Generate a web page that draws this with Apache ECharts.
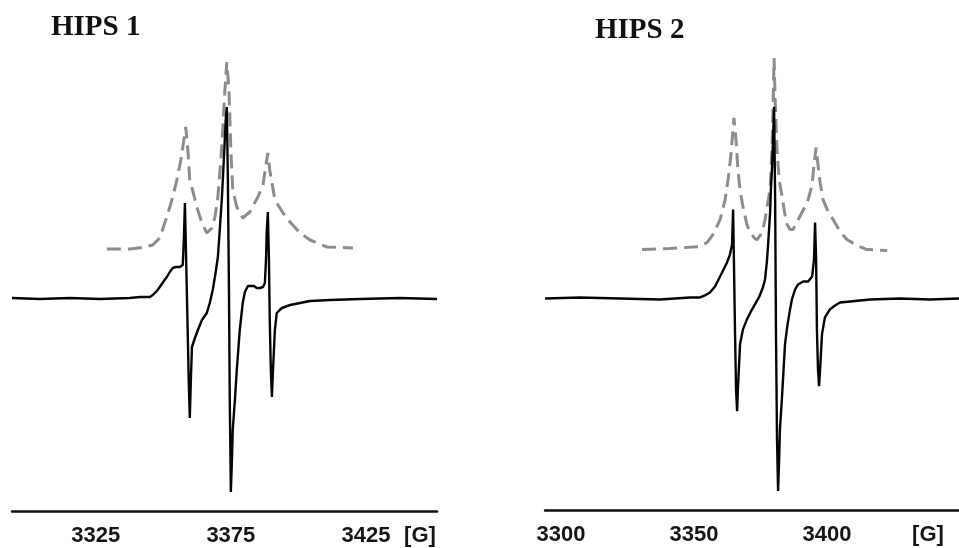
<!DOCTYPE html>
<html>
<head>
<meta charset="utf-8">
<script src="https://cdn.jsdelivr.net/npm/echarts@6/dist/echarts.min.js"></script>
<style>
html,body{margin:0;padding:0;background:#fff;}
#chart{width:959px;height:548px;}
</style>
</head>
<body>
<div id="chart"></div>
<script>
// ---- Data (field in Gauss, intensity in arbitrary units) ----
const titles = ['HIPS 1', 'HIPS 2'];
const unitLabel = '[G]';

const ticks1 = [3325, 3375, 3425];
const ticks2 = [3300, 3350, 3400];

// HIPS 1 measured spectrum (solid)
const hips1Field = [3294,3304.3,3315.4,3326.5,3337.6,3341.3,3345.0,3346.1,3347.6,3348.7,3350.2,3351.3,3352.4,3353.5,3354.6,3356.1,3357.2,3357.6,3358.0,3358.7,3359.4,3359.8,3360.2,3360.6,3361.7,3362.8,3364.3,3366.1,3367.2,3368.3,3369.4,3370.2,3370.9,3371.7,3372.4,3373.1,3373.5,3373.9,3374.3,3374.6,3375.0,3375.4,3375.7,3376.5,3377.2,3378.3,3379.4,3380.2,3381.3,3382.0,3383.5,3384.6,3385.7,3386.9,3387.6,3388.0,3388.3,3388.7,3389.1,3389.4,3389.8,3390.2,3390.6,3391.3,3392.0,3393.1,3393.9,3396.9,3400.6,3404.3,3411.7,3422.8,3437.6,3451.3];
const hips1Signal = [2,1,2,1,2,3,3,5,9,13,19,23,28,32,33,33,35,60,97,10,-80,-118,-80,-47,-38,-30,-20,-13,-3,10,28,43,70,103,140,180,193,120,10,-100,-192,-160,-130,-100,-70,-30,-3,8,14,16,14,12,12,13,17,40,70,88,40,-20,-70,-97,-70,-30,-13,-10,-8,-5,-3,-1,0,1,2,1];

// HIPS 1 simulated spectrum (dashed)
const hips1SimField = [3329.1,3337.6,3343.1,3346.1,3348.7,3351.3,3353.5,3355.0,3356.5,3357.6,3358.3,3359.1,3359.8,3361.3,3362.4,3364.3,3366.1,3368.0,3369.1,3370.2,3371.3,3372.0,3372.8,3373.5,3374.3,3375.0,3375.7,3377.2,3379.4,3382.0,3385.0,3386.9,3388.0,3388.7,3389.4,3391.3,3394.3,3396.9,3400.6,3404.3,3410.6,3420.2];
const hips1SimSignal = [51,51,53,55,62,83,103,120,140,160,173,150,120,105,93,77,67,72,83,103,140,170,210,238,210,150,110,93,82,88,103,115,135,147,130,100,87,78,67,60,53,52];

// HIPS 2 measured spectrum (solid)
const hips2Field = [3294.0,3307.1,3322.2,3337.2,3348.5,3352.3,3354.1,3356.0,3357.9,3359.8,3361.3,3362.4,3363.5,3364.3,3364.7,3365.0,3365.4,3365.8,3366.2,3366.5,3367.3,3368.4,3369.9,3371.4,3372.9,3374.4,3375.9,3376.7,3377.4,3377.8,3378.6,3378.9,3379.3,3379.7,3380.1,3380.5,3380.8,3381.2,3381.6,3382.0,3382.3,3383.1,3384.2,3385.0,3386.1,3386.8,3388.0,3389.1,3391.0,3392.9,3394.4,3395.1,3395.5,3395.9,3396.2,3396.6,3397.0,3397.4,3398.1,3399.2,3401.1,3403.0,3404.9,3408.6,3416.2,3427.4,3438.7,3449.6];
const hips2Signal = [1,2,1,0,2,2,4,7,13,23,31,37,45,55,90,40,-30,-90,-112,-90,-45,-30,-20,-12,-5,2,12,20,38,53,87,110,130,160,193,100,-30,-140,-192,-160,-130,-97,-45,-28,-10,0,10,15,18,18,23,40,77,40,-30,-70,-87,-70,-35,-18,-10,-6,-3,-2,0,1,0,1];

// HIPS 2 simulated spectrum (dashed)
const hips2SimField = [3330.5,3341.0,3352.3,3354.9,3357.1,3359.8,3361.7,3362.8,3363.9,3365.0,3365.8,3366.5,3367.3,3368.4,3369.9,3371.1,3372.9,3373.7,3375.6,3376.7,3377.4,3378.6,3379.3,3379.7,3380.1,3380.5,3381.2,3382.0,3383.1,3384.2,3385.0,3386.1,3387.2,3388.7,3389.8,3391.7,3392.9,3394.4,3395.1,3395.9,3396.6,3397.4,3398.5,3400.4,3402.3,3404.9,3407.5,3411.3,3415.0,3422.6];
const hips2SimSignal = [50,51,53,57,65,80,100,120,145,182,160,130,110,93,75,67,61,60,67,80,92,110,150,190,242,200,150,120,103,85,75,70,70,78,83,93,100,115,135,152,135,117,100,88,80,68,60,54,50,49];

function zip(xs, ys) { return xs.map((x, i) => [x, ys[i]]); }

const chart = echarts.init(document.getElementById('chart'), null, {renderer: 'canvas'});

const labelStyle = {
  fontFamily: '"Liberation Sans", Arial, sans-serif',
  fontWeight: 'bold',
  fontSize: 22,
  color: '#151515'
};

function xAxisFor(gridIndex, min, max, ticks, nameGap) {
  return {
    type: 'value', gridIndex, min, max,
    axisLine: {show: true, onZero: false, lineStyle: {color: '#111', width: 2.5}},
    axisTick: {show: false},
    splitLine: {show: false},
    axisLabel: Object.assign({customValues: ticks, margin: 14, formatter: v => String(v)}, labelStyle),
    name: unitLabel,
    nameLocation: 'end',
    nameGap: nameGap,
    nameTextStyle: Object.assign({align: 'center', verticalAlign: 'top', padding: [14, 0, 0, 0]}, labelStyle)
  };
}
function yAxisFor(gridIndex) {
  return {
    type: 'value', gridIndex, min: -211, max: 260,
    show: false, splitLine: {show: false}
  };
}

const solidStyle = {color: '#050505', width: 2.4};
const dashStyle = {color: '#8c8c8c', width: 3, type: [14, 7]};

chart.setOption({
  animation: false,
  backgroundColor: '#ffffff',
  title: [
    {text: titles[0], left: 46, top: 8,
     textStyle: {fontFamily: '"Liberation Serif", "Times New Roman", serif', fontWeight: 'bold', fontSize: 29, color: '#111'}},
    {text: titles[1], left: 590, top: 11,
     textStyle: {fontFamily: '"Liberation Serif", "Times New Roman", serif', fontWeight: 'bold', fontSize: 29, color: '#111'}}
  ],
  grid: [
    {left: 12, right: 522, top: 40, bottom: 37, containLabel: false, outerBoundsMode: 'none'},
    {left: 545, right: 0, top: 40, bottom: 38, containLabel: false, outerBoundsMode: 'none'}
  ],
  xAxis: [
    xAxisFor(0, 3294, 3451.3, ticks1, -17),
    xAxisFor(1, 3294, 3449.6, ticks2, -31)
  ],
  yAxis: [yAxisFor(0), yAxisFor(1)],
  series: [
    {type: 'line', xAxisIndex: 0, yAxisIndex: 0, data: zip(hips1SimField, hips1SimSignal),
     showSymbol: false, lineStyle: dashStyle, z: 2},
    {type: 'line', xAxisIndex: 0, yAxisIndex: 0, data: zip(hips1Field, hips1Signal),
     showSymbol: false, lineStyle: solidStyle, z: 3},
    {type: 'line', xAxisIndex: 1, yAxisIndex: 1, data: zip(hips2SimField, hips2SimSignal),
     showSymbol: false, lineStyle: dashStyle, z: 2},
    {type: 'line', xAxisIndex: 1, yAxisIndex: 1, data: zip(hips2Field, hips2Signal),
     showSymbol: false, lineStyle: solidStyle, z: 3}
  ]
});
</script>
</body>
</html>
